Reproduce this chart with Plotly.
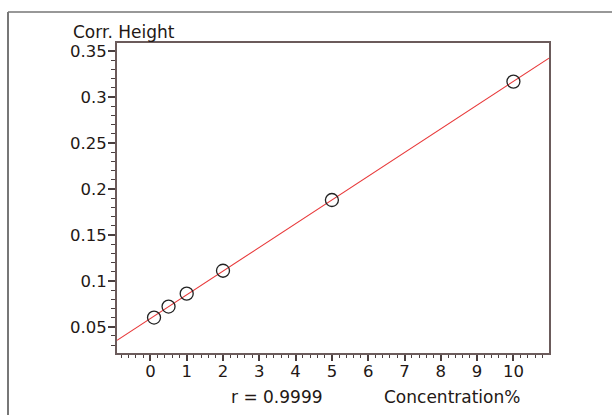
import numpy as np
import plotly.graph_objects as go

conc = [0.1, 0.5, 1, 2, 5, 10]
height = [0.060, 0.072, 0.086, 0.111, 0.188, 0.317]
x_ticks = [0, 1, 2, 3, 4, 5, 6, 7, 8, 9, 10]
y_ticks = [0.05, 0.1, 0.15, 0.2, 0.25, 0.3, 0.35]
y_tick_text = ["0.05", "0.1", "0.15", "0.2", "0.25", "0.3", "0.35"]
r_text = "r = 0.9999"
x_title = "Concentration%"
y_title = "Corr. Height"

xr = [-0.92, 10.98]
yr = [0.0214, 0.359]

slope, intercept = np.polyfit(conc, height, 1)
lx = np.array(xr)
ly = slope * lx + intercept

FONT = "DejaVu Sans"
TXT = "#231815"
W, H = 612, 415
L, R, T, B = 117, 63, 43, 62
pw, ph = W - L - R, H - T - B

def px(x):
    return (x - L) / pw

def py(y):
    return (H - B - y) / ph

fig = go.Figure()
fig.add_trace(go.Scatter(x=lx, y=ly, mode="lines",
                         line=dict(color="#e8393a", width=1.1), hoverinfo="skip"))
fig.add_trace(go.Scatter(x=conc, y=height, mode="markers",
                         marker=dict(symbol="circle-open", size=13,
                                     line=dict(color="#222222", width=1.3),
                                     color="#222222")))

axis_common = dict(showgrid=False, zeroline=False, showline=True, mirror=True,
                   linecolor="#6b5b5b", linewidth=2, ticks="outside",
                   tickcolor="#4a3f3f", tickwidth=1.5,
                   tickfont=dict(family=FONT, size=16.5, color=TXT))

fig.update_layout(
    width=W, height=H,
    margin=dict(l=L, r=R, t=T, b=B, pad=0),
    paper_bgcolor="white", plot_bgcolor="white",
    showlegend=False,
    xaxis=dict(range=xr, tickvals=x_ticks, ticklen=6, ticklabelstandoff=-4,
               minor=dict(dtick=0.2, ticks="outside", ticklen=3,
                          tickcolor="#4a3f3f", tickwidth=1.2),
               **axis_common),
    yaxis=dict(range=yr, tickvals=y_ticks, ticktext=y_tick_text, ticklen=7,
               ticklabelstandoff=-2,
               minor=dict(dtick=0.01, tick0=0, ticks="outside", ticklen=4,
                          tickcolor="#4a3f3f", tickwidth=1.2),
               **axis_common),
    shapes=[
        dict(type="line", xref="paper", yref="paper",
             x0=px(8), x1=px(640), y0=py(12), y1=py(12),
             line=dict(color="#333333", width=1.2)),
        dict(type="line", xref="paper", yref="paper",
             x0=px(8), x1=px(8), y0=py(12), y1=py(440),
             line=dict(color="#777777", width=2)),
    ],
    annotations=[
        dict(text=y_title, xref="paper", yref="paper", x=px(71), y=py(32),
             xanchor="left", yanchor="middle", showarrow=False,
             font=dict(family=FONT, size=17, color=TXT)),
        dict(text=r_text, xref="paper", yref="paper", x=px(229), y=py(397),
             xanchor="left", yanchor="middle", showarrow=False,
             font=dict(family=FONT, size=17, color=TXT)),
        dict(text=x_title, xref="paper", yref="paper", x=px(382), y=py(397),
             xanchor="left", yanchor="middle", showarrow=False,
             font=dict(family=FONT, size=17, color=TXT)),
    ],
)

fig.write_html("out.html")
